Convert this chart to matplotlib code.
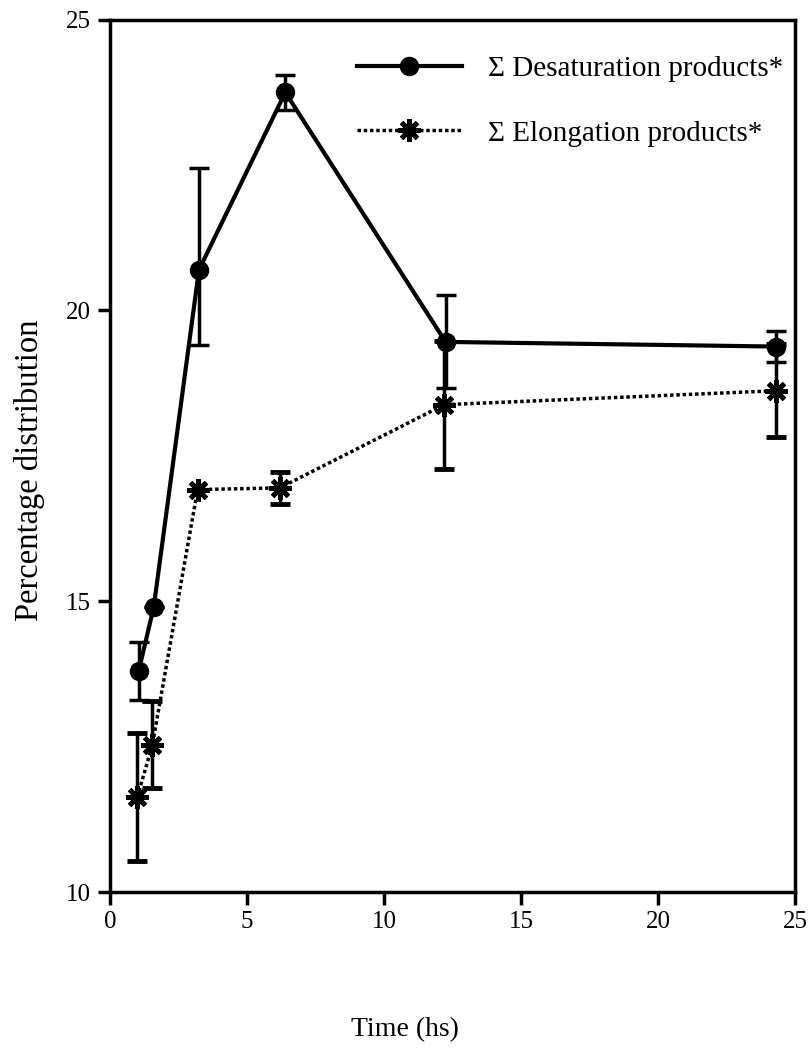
import matplotlib
matplotlib.use("Agg")
import matplotlib.pyplot as plt
from matplotlib.lines import Line2D

plt.rcParams['font.family'] = ['Liberation Serif', 'DejaVu Serif']

# Data
desat_x = [1.05, 1.6, 3.25, 6.4, 12.25, 24.3]
desat_y = [13.8, 14.9, 20.7, 23.75, 19.46, 19.38]
desat_err_lo = [0.5, 0.0, 1.3, 0.3, 0.8, 0.27]
desat_err_hi = [0.5, 0.0, 1.75, 0.3, 0.8, 0.27]

elong_x = [1.0, 1.55, 3.2, 6.2, 12.2, 24.3]
elong_y = [11.63, 12.53, 16.92, 16.95, 18.38, 18.62]
elong_err = [1.1, 0.75, 0.0, 0.27, 1.1, 0.8]

x_ticks = [0, 5, 10, 15, 20, 25]
y_ticks = [10, 15, 20, 25]

fig = plt.figure(figsize=(8.08, 10.56), dpi=100)
ax = fig.add_axes([0.136, 0.1553, 0.848, 0.826])

star = (8, 2, 0)
ax.errorbar(desat_x, desat_y, yerr=[desat_err_lo, desat_err_hi], color='black',
            linestyle='-', linewidth=3, marker='o', markersize=13,
            elinewidth=2.5, capsize=7, capthick=2.5, zorder=3)
ax.errorbar(elong_x, elong_y, yerr=elong_err, color='black',
            linestyle=(0, (1, 0.8)), linewidth=2.5, marker=star, markersize=16,
            markeredgewidth=3.5, elinewidth=2.5, capsize=7, capthick=2.5, zorder=3)

ax.set_xlim(0, 25)
ax.set_ylim(10, 25)
ax.set_xticks(x_ticks)
ax.set_yticks(y_ticks)
ax.tick_params(direction='out', length=9, width=2.5, labelsize=18, pad=5)
for s in ax.spines.values():
    s.set_linewidth(2.5)

ax.set_xlabel('Time (hs)', fontsize=20)
ax.set_ylabel('Percentage distribution', fontsize=23.5)
ax.xaxis.set_label_coords(0.43, -0.158)
ax.xaxis.label.set_va('center')
ax.yaxis.set_label_coords(-0.117, 0.484)
ax.yaxis.label.set_va('center')

handles = [
    Line2D([], [], color='black', linestyle='-', linewidth=3, marker='o', markersize=13),
    Line2D([], [], color='black', linestyle=(0, (1, 0.8)), linewidth=2.5,
           marker=star, markersize=16, markeredgewidth=3.5),
]
ax.legend(handles, ['\u03a3 Desaturation products*', '\u03a3 Elongation products*'],
          loc='upper right', frameon=False, fontsize=21, handlelength=3.6,
          labelspacing=1.3, handletextpad=0.9, borderaxespad=0.0,
          bbox_to_anchor=(1.0, 0.972))

fig.savefig('out.png', dpi=100)
